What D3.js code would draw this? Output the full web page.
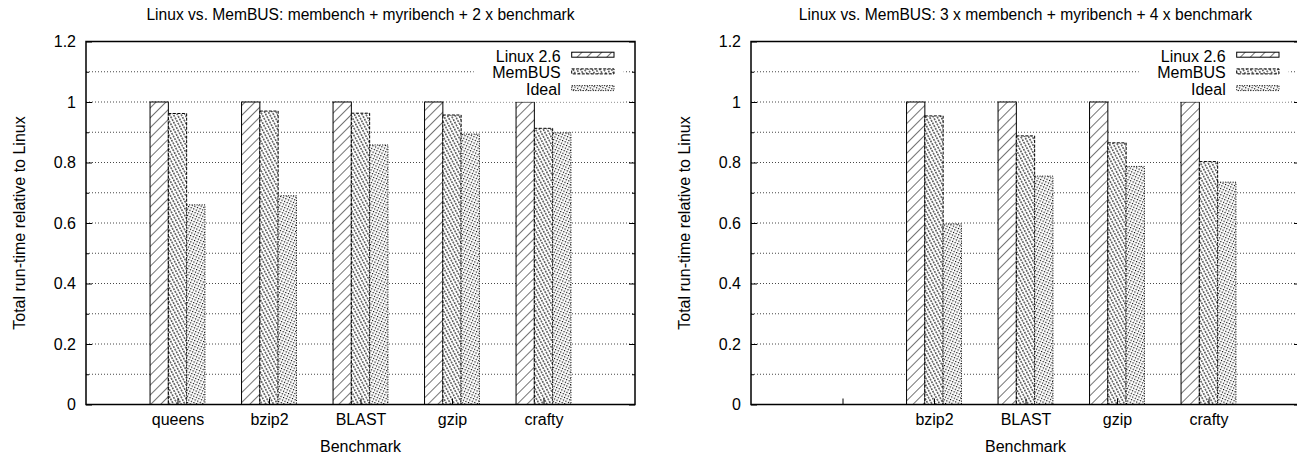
<!DOCTYPE html>
<html>
<head>
<meta charset="utf-8">
<script src="https://cdn.jsdelivr.net/npm/d3@7"></script>
<style>
  html, body { margin: 0; padding: 0; background: #fff; }
  svg { display: block; }
  text { font-family: "Liberation Sans", Arial, Helvetica, sans-serif; fill: #000; }
</style>
</head>
<body>
<svg id="chart" width="1297" height="455"></svg>
<script>
// ---- data ----
const seriesNames = ["Linux 2.6", "MemBUS", "Ideal"];

const titleLeft = "Linux vs. MemBUS: membench + myribench + 2 x benchmark";
const categoriesLeft = ["queens", "bzip2", "BLAST", "gzip", "crafty"];
const linuxLeft  = [1.0, 1.0, 1.0, 1.0, 1.0];
const membusLeft = [0.962, 0.970, 0.963, 0.957, 0.913];
const idealLeft  = [0.660, 0.690, 0.858, 0.894, 0.898];

const titleRight = "Linux vs. MemBUS: 3 x membench + myribench + 4 x benchmark";
const categoriesRight = ["", "bzip2", "BLAST", "gzip", "crafty"];
const linuxRight  = [null, 1.0, 1.0, 1.0, 1.0];
const membusRight = [null, 0.954, 0.888, 0.865, 0.803];
const idealRight  = [null, 0.597, 0.755, 0.787, 0.735];

const yMajorTicks = [0, 0.2, 0.4, 0.6, 0.8, 1.0, 1.2];
const yMinorTicks = [0.1, 0.3, 0.5, 0.7, 0.9, 1.1];
const yTickLabels = ["0", "0.2", "0.4", "0.6", "0.8", "1", "1.2"];
const yLabel = "Total run-time relative to Linux";
const xLabel = "Benchmark";

// ---- drawing ----
const FS = 16;
const svg = d3.select("#chart");
const defs = svg.append("defs");

// Linux: "/" hatch
const p1 = defs.append("pattern").attr("id", "patLinux")
  .attr("patternUnits", "userSpaceOnUse").attr("width", 7).attr("height", 7)
  .attr("patternTransform", "rotate(45)");
p1.append("rect").attr("width", 7).attr("height", 7).attr("fill", "#fff");
p1.append("line").attr("x1", 0).attr("y1", 0).attr("x2", 0).attr("y2", 7)
  .attr("stroke", "#000").attr("stroke-width", 1.1);

// MemBUS: dense "\" dashed hatch
const p2 = defs.append("pattern").attr("id", "patMem")
  .attr("patternUnits", "userSpaceOnUse").attr("width", 3.4).attr("height", 6)
  .attr("patternTransform", "rotate(-28)");
p2.append("rect").attr("width", 3.4).attr("height", 6).attr("fill", "#fff");
p2.append("line").attr("x1", 0.8).attr("y1", 0).attr("x2", 0.8).attr("y2", 6)
  .attr("stroke", "#000").attr("stroke-width", 1).attr("stroke-dasharray", "2,1");

// Ideal: dotted
const p3 = defs.append("pattern").attr("id", "patIdeal")
  .attr("patternUnits", "userSpaceOnUse").attr("width", 4).attr("height", 4)
  .attr("patternTransform", "rotate(-20)");
p3.append("rect").attr("width", 4).attr("height", 4).attr("fill", "#fff");
p3.append("rect").attr("x", 0).attr("y", 0).attr("width", 1.2).attr("height", 1.2).attr("fill", "#000");
p3.append("rect").attr("x", 2).attr("y", 2).attr("width", 1.2).attr("height", 1.2).attr("fill", "#000");

const fills = ["url(#patLinux)", "url(#patMem)", "url(#patIdeal)"];
const dashes = [null, "3,1.5", "1,1.5"];

function drawChart(opts) {
  const { left, right, top, bottom, title, categories, series } = opts;
  const g = svg.append("g");
  const x = d3.scaleLinear().domain([0, categories.length + 1]).range([left, right]);
  const y = d3.scaleLinear().domain([0, 1.2]).range([bottom, top]);

  // grid
  const gridVals = yMajorTicks.concat(yMinorTicks).filter(v => v > 0 && v < 1.2);
  g.append("g").selectAll("line").data(gridVals).join("line")
    .attr("x1", left).attr("x2", right)
    .attr("y1", d => y(d)).attr("y2", d => y(d))
    .attr("stroke", "#333").attr("stroke-width", 0.9).attr("stroke-dasharray", "1,2");

  // bars
  const barW = 0.2;
  series.forEach((vals, j) => {
    g.append("g").selectAll("rect").data(vals.map((v, i) => ({ v, i })).filter(d => d.v != null))
      .join("rect")
      .attr("x", d => x(d.i + 1 - 0.3 + j * barW))
      .attr("width", x(barW) - x(0))
      .attr("y", d => y(d.v))
      .attr("height", d => y(0) - y(d.v))
      .attr("fill", fills[j])
      .attr("stroke", "#000").attr("stroke-width", 1)
      .attr("stroke-dasharray", dashes[j]);
  });

  // legend
  const legX = right - 63.3, legKeyW = 42.3, legKeyH = 5, rowH = 16.7, base0 = 61.7;
  g.append("rect").attr("x", legX - 98).attr("y", base0 - 14).attr("width", 150)
    .attr("height", rowH * 3 + 4).attr("fill", "#fff");
  seriesNames.forEach((name, j) => {
    const by = base0 + j * rowH;
    g.append("text").attr("x", legX - 11).attr("y", by)
      .attr("text-anchor", "end").attr("font-size", FS).text(name);
    g.append("rect").attr("x", legX).attr("y", by - 7 - legKeyH / 2)
      .attr("width", legKeyW).attr("height", legKeyH)
      .attr("fill", fills[j]).attr("stroke", "#000").attr("stroke-width", 1)
      .attr("stroke-dasharray", dashes[j]);
  });

  // y axes (left with labels, right mirror)
  const yAxisMajor = d3.axisLeft(y).tickValues(yMajorTicks).tickSize(-6).tickPadding(10)
    .tickFormat((d, i) => yTickLabels[i]);
  const ya = g.append("g").attr("transform", `translate(${left},0)`).call(yAxisMajor);
  ya.select(".domain").remove();
  ya.selectAll("text").attr("font-size", FS).attr("font-family", "Liberation Sans, Arial, sans-serif");
  const ym = g.append("g").attr("transform", `translate(${left},0)`)
    .call(d3.axisLeft(y).tickValues(yMinorTicks).tickSize(-3).tickFormat(""));
  ym.select(".domain").remove();
  const yr = g.append("g").attr("transform", `translate(${right},0)`)
    .call(d3.axisRight(y).tickValues(yMajorTicks).tickSize(-6).tickFormat(""));
  yr.select(".domain").remove();
  const yrm = g.append("g").attr("transform", `translate(${right},0)`)
    .call(d3.axisRight(y).tickValues(yMinorTicks).tickSize(-3).tickFormat(""));
  yrm.select(".domain").remove();

  // x axis
  const xTickVals = categories.map((c, i) => i + 1);
  const xa = g.append("g").attr("transform", `translate(0,${bottom})`)
    .call(d3.axisBottom(x).tickValues(xTickVals).tickSize(-6).tickPadding(9)
      .tickFormat((d, i) => categories[i]));
  xa.select(".domain").remove();
  xa.selectAll("text").attr("font-size", FS).attr("font-family", "Liberation Sans, Arial, sans-serif");

  // border
  g.append("rect").attr("x", left).attr("y", top).attr("width", right - left)
    .attr("height", bottom - top).attr("fill", "none").attr("stroke", "#000").attr("stroke-width", 1.5);

  // title and axis labels
  g.append("text").attr("x", (left + right) / 2).attr("y", 20).attr("text-anchor", "middle")
    .attr("font-size", 15.6).text(title);
  g.append("text").attr("x", (left + right) / 2).attr("y", 452).attr("text-anchor", "middle")
    .attr("font-size", FS).text(xLabel);
  g.append("text").attr("transform", `translate(${left - 61},${(top + bottom) / 2}) rotate(-90)`)
    .attr("text-anchor", "middle").attr("font-size", FS).text(yLabel);
}

drawChart({ left: 86, right: 635, top: 41.5, bottom: 404.5, title: titleLeft,
  categories: categoriesLeft, series: [linuxLeft, membusLeft, idealLeft] });
drawChart({ left: 751, right: 1300, top: 41.5, bottom: 404.5, title: titleRight,
  categories: categoriesRight, series: [linuxRight, membusRight, idealRight] });
</script>
</body>
</html>
